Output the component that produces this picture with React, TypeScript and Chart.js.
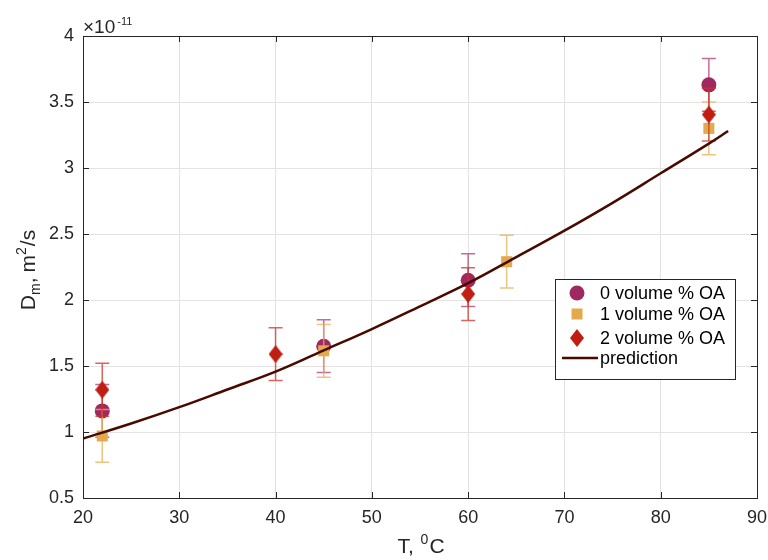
import React, { useEffect, useRef } from "react";
import { Chart, registerables } from "chart.js";

Chart.register(...registerables);

// ---- data (D in units of 1e-11 m^2/s) ----
const seriesNames = ["0 volume % OA", "1 volume % OA", "2 volume % OA", "prediction"];

const tempOA0 = [22, 45, 60, 85];
const diffOA0 = [1.16, 1.65, 2.15, 3.63];
const errOA0 = [0.2, 0.2, 0.2, 0.2];

const tempOA1 = [22, 45, 64, 85];
const diffOA1 = [0.97, 1.615, 2.29, 3.3];
const errOA1 = [0.2, 0.2, 0.2, 0.2];

const tempOA2 = [22, 40, 60, 85];
const diffOA2 = [1.32, 1.59, 2.045, 3.405];
const errOA2 = [0.2, 0.2, 0.2, 0.2];

const tempPred = [20, 25, 30, 35, 40, 45, 50, 55, 60, 65, 70, 75, 80, 85, 87];
const diffPred = [0.95, 1.064, 1.188, 1.322, 1.457, 1.618, 1.78, 1.952, 2.127, 2.325, 2.525, 2.736, 2.96, 3.185, 3.28];

const xTickValues = [20, 30, 40, 50, 60, 70, 80, 90];
const yTickValues = [0.5, 1, 1.5, 2, 2.5, 3, 3.5, 4];

const colOA0 = "rgb(160,40,96)";
const colOA1 = "rgb(226,170,76)";
const colOA2 = "rgb(192,30,18)";
const colPred = "rgb(72,10,0)";
const errCol0 = "rgba(175,60,115,0.75)";
const errCol1 = "rgba(228,176,90,0.75)";
const errCol2 = "rgba(205,50,40,0.75)";

const FONT = "'Liberation Sans', Arial, Helvetica, sans-serif";
const TEXT = "#262626";

function makeDiamond(color: string, w: number, h: number) {
  const c = document.createElement("canvas");
  c.width = w;
  c.height = h;
  const g = c.getContext("2d")!;
  g.fillStyle = color;
  g.beginPath();
  g.moveTo(w / 2, 0);
  g.lineTo(w, h / 2);
  g.lineTo(w / 2, h);
  g.lineTo(0, h / 2);
  g.closePath();
  g.fill();
  return c;
}

const errorBarPlugin = {
  id: "errorBars",
  beforeDatasetDraw(chart: any, args: any) {
    const ds = chart.data.datasets[args.index];
    if (!ds.errors) return;
    const ctx = chart.ctx;
    const xs = chart.scales.x;
    const ys = chart.scales.y;
    ctx.save();
    ctx.strokeStyle = ds.errorColor;
    ctx.lineWidth = 1.5;
    ds.data.forEach((p: any, i: number) => {
      const e = ds.errors[i];
      const px = xs.getPixelForValue(p.x);
      const y1 = ys.getPixelForValue(p.y - e);
      const y2 = ys.getPixelForValue(p.y + e);
      ctx.beginPath();
      ctx.moveTo(px, y1);
      ctx.lineTo(px, y2);
      ctx.moveTo(px - 7, y1);
      ctx.lineTo(px + 7, y1);
      ctx.moveTo(px - 7, y2);
      ctx.lineTo(px + 7, y2);
      ctx.stroke();
    });
    ctx.restore();
  },
};

const framePlugin = {
  id: "frame",
  beforeDatasetsDraw(chart: any) {
    const { ctx, chartArea: a } = chart;
    const xs = chart.scales.x;
    const ys = chart.scales.y;
    ctx.save();
    ctx.strokeStyle = TEXT;
    ctx.lineWidth = 1;
    ctx.strokeRect(Math.round(a.left) + 0.5, Math.round(a.top) + 0.5, Math.round(a.right - a.left), Math.round(a.bottom - a.top));
    ctx.beginPath();
    xTickValues.forEach((v) => {
      const px = Math.round(xs.getPixelForValue(v)) + 0.5;
      ctx.moveTo(px, a.bottom);
      ctx.lineTo(px, a.bottom - 6);
      ctx.moveTo(px, a.top);
      ctx.lineTo(px, a.top + 6);
    });
    yTickValues.forEach((v) => {
      const py = Math.round(ys.getPixelForValue(v)) + 0.5;
      ctx.moveTo(a.left, py);
      ctx.lineTo(a.left + 6, py);
      ctx.moveTo(a.right, py);
      ctx.lineTo(a.right - 6, py);
    });
    ctx.stroke();
    ctx.restore();
  },
  afterDraw(chart: any) {
    const { ctx, chartArea: a } = chart;
    ctx.save();
    ctx.fillStyle = TEXT;
    ctx.textBaseline = "alphabetic";
    ctx.textAlign = "left";

    // exponent label
    ctx.font = `19px ${FONT}`;
    ctx.fillText("\u00d710", a.left, a.top - 3);
    const w10 = ctx.measureText("\u00d710").width;
    ctx.font = `11px ${FONT}`;
    ctx.fillText("-11", a.left + w10 + 2, a.top - 11);

    // x title: T, ^0C
    const big = `21px ${FONT}`;
    const small = `14px ${FONT}`;
    ctx.font = big;
    const wT = ctx.measureText("T, ").width + 1;
    const wC = ctx.measureText("C").width;
    ctx.font = small;
    const w0 = ctx.measureText("0").width + 1;
    const total = wT + w0 + wC;
    let x0 = 421 - total / 2;
    const by = 553;
    ctx.font = big;
    ctx.fillText("T, ", x0, by);
    x0 += wT;
    ctx.font = small;
    ctx.fillText("0", x0, by - 9);
    x0 += w0;
    ctx.font = big;
    ctx.fillText("C", x0, by);

    // y title: D_m, m^2/s (rotated)
    ctx.save();
    ctx.translate(35, (a.top + a.bottom) / 2 + 3);
    ctx.rotate(-Math.PI / 2);
    const parts: [string, string, number, number][] = [
      ["D", big, 0, 0],
      ["m", small, 5, 0],
      [",", big, 0, 5],
      ["m", big, 0, 0],
      ["2", small, -9, 1],
      ["/s", big, 0, 0],
    ];
    let tw = 0;
    parts.forEach(([t, f, , gap]) => {
      ctx.font = f;
      tw += ctx.measureText(t).width + gap;
    });
    let cx = -tw / 2;
    parts.forEach(([t, f, dy, gap]) => {
      ctx.font = f;
      ctx.fillText(t, cx, dy);
      cx += ctx.measureText(t).width + gap;
    });
    ctx.restore();

    // legend
    const lx = a.right - 202;
    const ly = a.top + 243;
    const lw = 180;
    const lh = 100;
    ctx.fillStyle = "#ffffff";
    ctx.fillRect(lx, ly, lw, lh);
    ctx.strokeStyle = TEXT;
    ctx.lineWidth = 1;
    ctx.strokeRect(Math.round(lx) + 0.5, Math.round(ly) + 0.5, lw, lh);
    const rows = [ly + 14, ly + 35, ly + 59, ly + 79];
    const mx = lx + 22;
    // circle
    ctx.fillStyle = colOA0;
    ctx.beginPath();
    ctx.arc(mx, rows[0], 7.5, 0, Math.PI * 2);
    ctx.fill();
    // square
    ctx.fillStyle = colOA1;
    ctx.fillRect(mx - 5.5, rows[1] - 5.5, 11, 11);
    // diamond
    ctx.fillStyle = colOA2;
    ctx.beginPath();
    ctx.moveTo(mx, rows[2] - 9);
    ctx.lineTo(mx + 7, rows[2]);
    ctx.lineTo(mx, rows[2] + 9);
    ctx.lineTo(mx - 7, rows[2]);
    ctx.closePath();
    ctx.fill();
    // line
    ctx.strokeStyle = colPred;
    ctx.lineWidth = 2.5;
    ctx.beginPath();
    ctx.moveTo(lx + 7, rows[3]);
    ctx.lineTo(lx + 43, rows[3]);
    ctx.stroke();
    ctx.fillStyle = "#000000";
    ctx.font = `18px ${FONT}`;
    ctx.textBaseline = "middle";
    seriesNames.forEach((n, i) => {
      ctx.fillText(n, lx + 45, rows[i] + 1);
    });
    ctx.restore();
  },
};

export default function App() {
  const ref = useRef<HTMLCanvasElement | null>(null);
  useEffect(() => {
    if (!ref.current) return;
    const diamond = makeDiamond(colOA2, 14, 18);
    const toPts = (xs: number[], ys: number[]) => xs.map((x, i) => ({ x, y: ys[i] }));
    const chart = new Chart(ref.current, {
      type: "scatter",
      data: {
        datasets: [
          {
            label: seriesNames[3],
            data: toPts(tempPred, diffPred),
            showLine: true,
            borderColor: colPred,
            borderWidth: 2.5,
            pointRadius: 0,
            tension: 0.4,
            order: 0,
          } as any,
          {
            label: seriesNames[2],
            data: toPts(tempOA2, diffOA2),
            pointStyle: diamond,
            pointRadius: 9,
            backgroundColor: colOA2,
            borderWidth: 0,
            errors: errOA2,
            errorColor: errCol2,
            order: 1,
          } as any,
          {
            label: seriesNames[1],
            data: toPts(tempOA1, diffOA1),
            pointStyle: "rect",
            pointRadius: 7.8,
            backgroundColor: colOA1,
            borderWidth: 0,
            errors: errOA1,
            errorColor: errCol1,
            order: 2,
          } as any,
          {
            label: seriesNames[0],
            data: toPts(tempOA0, diffOA0),
            pointStyle: "circle",
            pointRadius: 7.5,
            backgroundColor: colOA0,
            borderWidth: 0,
            errors: errOA0,
            errorColor: errCol0,
            order: 3,
          } as any,
        ],
      },
      options: {
        animation: false,
        responsive: false,
        layout: { padding: { left: 0, right: 11, top: 36, bottom: 0 } },
        plugins: { legend: { display: false }, tooltip: { enabled: false } },
        scales: {
          x: {
            type: "linear",
            min: 20,
            max: 90,
            afterFit: (s: any) => {
              s.height = 62;
              s.paddingLeft = 0;
              s.paddingRight = 0;
            },
            afterBuildTicks: (s: any) => {
              s.ticks = xTickValues.map((v) => ({ value: v }));
            },
            ticks: {
              font: { family: FONT, size: 18 },
              color: TEXT,
              padding: 9,
              callback: (v: any) => String(v),
            },
            grid: { color: "#e3e3e3", drawTicks: false },
            border: { display: false },
          },
          y: {
            type: "linear",
            min: 0.5,
            max: 4,
            afterFit: (s: any) => {
              s.width = 83;
              s.paddingTop = 0;
              s.paddingBottom = 0;
            },
            afterBuildTicks: (s: any) => {
              s.ticks = yTickValues.map((v) => ({ value: v }));
            },
            ticks: {
              font: { family: FONT, size: 18 },
              color: TEXT,
              padding: 9,
              callback: (v: any) => String(Math.round(v * 10) / 10),
            },
            grid: { color: "#e3e3e3", drawTicks: false },
            border: { display: false },
          },
        },
      } as any,
      plugins: [errorBarPlugin, framePlugin],
    });
    return () => chart.destroy();
  }, []);
  return (
    <div style={{ position: "absolute", left: 0, top: 0, width: 768, height: 560, background: "#fff" }}>
      <canvas ref={ref} width={768} height={560} style={{ width: 768, height: 560 }} />
    </div>
  );
}
